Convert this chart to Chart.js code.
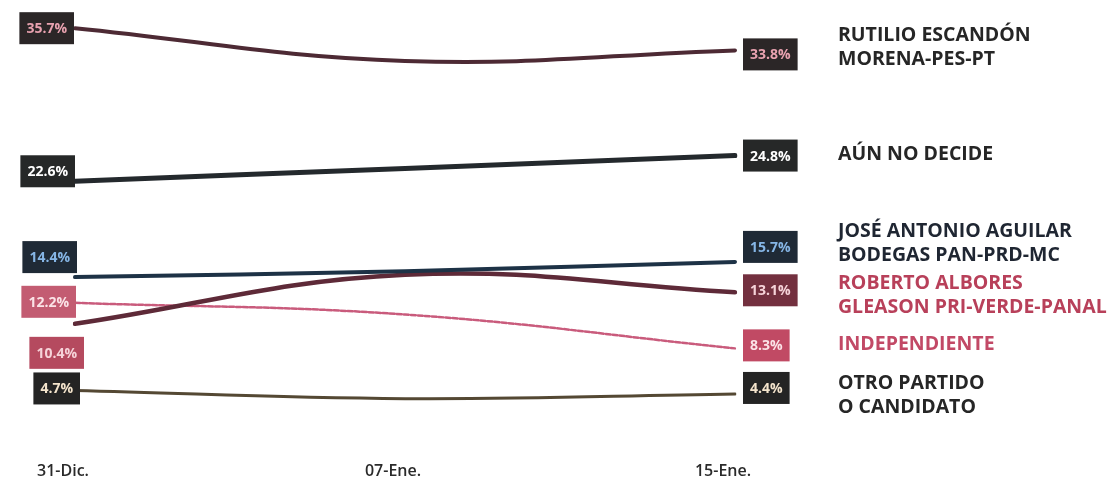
<!DOCTYPE html>
<html>
<head>
<meta charset="utf-8">
<script src="https://cdn.jsdelivr.net/npm/chart.js@4.4.1/dist/chart.umd.min.js"></script>
<style>
  html, body { margin: 0; padding: 0; background: #fff; }
</style>
</head>
<body>
<canvas id="chart" width="1112" height="487"></canvas>
<script>
// survey dates
const dates = ["31-Dic.", "07-Ene.", "15-Ene."];

// percentages per option
const rutilio = [35.7, 32.9, 33.8];
const noDecide = [22.6, 23.7, 24.8];
const aguilar = [14.4, 14.9, 15.7];
const albores = [10.4, 14.6, 13.1];
const independiente = [12.2, 11.2, 8.3];
const otro = [4.7, 4.0, 4.4];

const seriesNames = [
  ["RUTILIO ESCANDÓN", "MORENA-PES-PT"],
  ["AÚN NO DECIDE"],
  ["JOSÉ ANTONIO AGUILAR", "BODEGAS PAN-PRD-MC"],
  ["ROBERTO ALBORES", "GLEASON PRI-VERDE-PANAL"],
  ["INDEPENDIENTE"],
  ["OTRO PARTIDO", "O CANDIDATO"],
];

// look of each series (lines, value boxes, name text)
const looks = [
  { line: "#4d2a34", width: 4, dash: [], leftBox: "#2b2627", rightBox: "#2b2627", boxText: "#e9a2b0", name: "#262626", leftShift: 0, rightShift: 4, leftDx: -1, nameShift: -5 },
  { line: "#24292d", width: 5, dash: [], leftBox: "#262828", rightBox: "#262828", boxText: "#ffffff", name: "#262626", leftShift: -10, rightShift: 0, leftDx: 0, nameShift: 1 },
  { line: "#1d3246", width: 4, dash: [], leftBox: "#1f2a36", rightBox: "#1f2a36", boxText: "#86b6e6", name: "#1f2632", leftShift: -20, rightShift: -15, leftDx: 2, nameShift: -1 },
  { line: "#5e2a38", width: 4.5, dash: [], leftBox: "#b54a5f", rightBox: "#73303f", boxText: "#f6d3d9", name: "#b8405a", leftShift: 29, rightShift: -2, leftDx: 9, nameShift: 7 },
  { line: "#c95b7c", width: 2.5, dash: [5, 2], leftBox: "#c35c72", rightBox: "#c14a64", boxText: "#fbe3e7", name: "#c24966", leftShift: -1, rightShift: -3, leftDx: 1, nameShift: 1 },
  { line: "#544833", width: 3, dash: [], leftBox: "#242424", rightBox: "#242424", boxText: "#f4e4cc", name: "#262626", leftShift: -2, rightShift: -6, leftDx: 5, nameShift: 9 },
];

const allSeries = [rutilio, noDecide, aguilar, albores, independiente, otro];

const FONT = "'Open Sans', 'DejaVu Sans', sans-serif";

const valueLabels = {
  id: "valueLabels",
  afterDatasetsDraw(chart) {
    const ctx = chart.ctx;
    ctx.save();
    chart.data.datasets.forEach((ds, i) => {
      const meta = chart.getDatasetMeta(i);
      const first = meta.data[0];
      const last = meta.data[meta.data.length - 1];
      const look = looks[i];
      ctx.font = "bold 14px " + FONT;
      const drawBox = (txt, xLeft, yMid, bg) => {
        const w = ctx.measureText(txt).width + 14;
        const h = 32;
        ctx.fillStyle = bg;
        ctx.fillRect(xLeft, yMid - h / 2, w, h);
        ctx.fillStyle = look.boxText;
        ctx.textAlign = "center";
        ctx.textBaseline = "middle";
        ctx.fillText(txt, xLeft + w / 2, yMid + 1);
        return w;
      };
      const lt = ds.data[0].toFixed(1) + "%";
      const lw = ctx.measureText(lt).width + 14;
      drawBox(lt, first.x + look.leftDx - lw, first.y + look.leftShift, look.leftBox);
      const rt = ds.data[ds.data.length - 1].toFixed(1) + "%";
      const ry = last.y + look.rightShift;
      drawBox(rt, last.x + 8, ry, look.rightBox);

      // series name on the right
      const lines = seriesNames[i];
      ctx.font = "bold 19.5px " + FONT;
      ctx.fillStyle = look.name;
      ctx.textAlign = "left";
      ctx.textBaseline = "middle";
      const gap = 24;
      const top = ry + look.nameShift - (lines.length - 1) * gap / 2 - 2;
      lines.forEach((ln, k) => ctx.fillText(ln, 838, top + k * gap));
    });
    ctx.restore();
  },
};

new Chart(document.getElementById("chart"), {
  type: "line",
  data: {
    labels: dates,
    datasets: allSeries.map((values, i) => ({
      label: seriesNames[i].join(" "),
      data: values,
      borderColor: looks[i].line,
      borderWidth: looks[i].width,
      borderDash: looks[i].dash,
      borderCapStyle: "round",
      pointRadius: 0,
      tension: 0.4,
      fill: false,
    })),
  },
  options: {
    responsive: false,
    animation: false,
    layout: { padding: { left: 75, right: 377, top: 13, bottom: 5 } },
    plugins: { legend: { display: false }, tooltip: { enabled: false } },
    scales: {
      x: {
        offset: false,
        grid: { display: false },
        border: { display: false },
        afterFit(scale) { scale.height = 60; },
        ticks: {
          padding: 32,
          labelOffset: -12,
          color: "#2a2a2a",
          font: { family: FONT, size: 16, weight: "600" },
        },
      },
      y: {
        display: false,
        min: 2,
        max: 37,
      },
    },
  },
  plugins: [valueLabels],
});
</script>
</body>
</html>
